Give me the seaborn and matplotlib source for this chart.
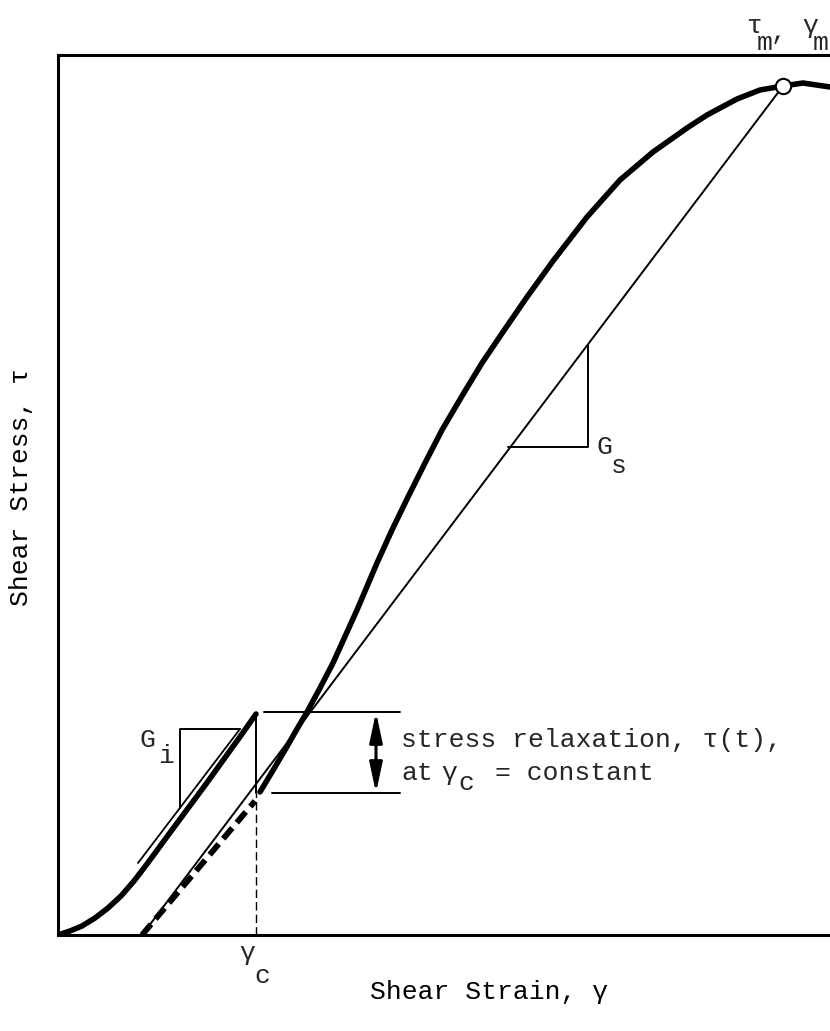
import numpy as np
import pandas as pd
import matplotlib
matplotlib.use("Agg")
import matplotlib.pyplot as plt
import seaborn as sns

# ---------------- data (arbitrary units) ----------------
load_strain = [0, 12, 24, 37, 50, 63, 76, 89, 100, 111, 128, 148, 166, 184, 198]
load_stress = [0, 4, 9, 17, 27, 39, 54, 71, 86, 101, 124, 151, 176, 201, 221]

reload_strain = [202, 214, 227, 239, 249, 262, 275, 299, 319, 334, 350, 367,
                 384, 404, 424, 447, 469, 495, 529, 562, 595, 629, 649, 679,
                 702, 725, 745, 772]
reload_stress = [143, 163, 185, 206, 223, 247, 272, 325, 372, 405, 438, 472,
                 505, 539, 572, 606, 638, 674, 718, 755, 783, 807, 820, 836,
                 845, 849, 852, 848]

gamma_c = 198              # constant strain during relaxation
tau_peak_c = 222           # stress at gamma_c before relaxation
tau_relaxed_c = 142        # stress after relaxation
gamma_m, tau_m = 725, 849  # peak point
gamma_0 = 84               # permanent-set strain (start of secant / unloading)

secant_strain = [gamma_0, gamma_m]
secant_stress = [0, tau_m]

unload_strain = [gamma_0, 197]
unload_stress = [0, 134]

tangent_strain = [80, 182]
tangent_stress = [72, 206]
gi_box_strain = [122, 122, 182]
gi_box_stress = [127, 206, 206]

gs_box_strain = [450, 530, 530]
gs_box_stress = [488, 488, 590]

# ---------------- style ----------------
sns.set_theme(style="white")
plt.rcParams["font.family"] = ["Liberation Mono", "DejaVu Sans Mono", "DejaVu Sans"]

fig = plt.figure(figsize=(8.30, 10.31), dpi=100)
W, H = 830, 1031
ax = fig.add_axes([58 / W, (H - 935) / H, 862 / W, 880 / H])
ax.set_xlim(0, 862)
ax.set_ylim(0, 880)
ax.set_facecolor("white")
for s in ["left", "bottom", "top"]:
    ax.spines[s].set_visible(True)
    ax.spines[s].set_color("black")
    ax.spines[s].set_linewidth(2.2)
ax.spines["right"].set_visible(False)
ax.set_xticks([])
ax.set_yticks([])

K = "black"
FS = 19

# main curves (thick)
sns.lineplot(x=load_strain, y=load_stress, ax=ax, color=K, linewidth=4,
             sort=False, estimator=None, solid_capstyle="round",
             solid_joinstyle="round")
sns.lineplot(x=reload_strain, y=reload_stress, ax=ax, color=K, linewidth=4,
             sort=False, estimator=None, solid_capstyle="round",
             solid_joinstyle="round")

# relaxation drop (thin solid) and dashed strain marker
ax.plot([gamma_c, gamma_c], [tau_relaxed_c, tau_peak_c], color=K, lw=1.4)
ax.plot([gamma_c, gamma_c], [0, tau_relaxed_c], color=K, lw=1.0,
        linestyle=(0, (6, 3)))

# thick dashed unloading line
ax.plot(unload_strain, unload_stress, color=K, lw=4.2,
        linestyle=(0, (2.4, 1.2)), dash_capstyle="butt")

# secant line (thin) with peak marker
sns.lineplot(x=secant_strain, y=secant_stress, ax=ax, color=K, linewidth=1.4,
             sort=False, estimator=None)
ax.plot([gamma_m], [tau_m], marker="o", markersize=11, markerfacecolor="white",
        markeredgecolor=K, markeredgewidth=1.5, clip_on=False, zorder=5)

# initial tangent + slope triangles
ax.plot(tangent_strain, tangent_stress, color=K, lw=1.3)
ax.plot(gi_box_strain, gi_box_stress, color=K, lw=1.4)
ax.plot(gs_box_strain, gs_box_stress, color=K, lw=1.4)

# relaxation bracket lines and arrow
ax.plot([206, 342], [tau_peak_c + 1, tau_peak_c + 1], color=K, lw=1.4)
ax.plot([214, 342], [tau_relaxed_c, tau_relaxed_c], color=K, lw=1.4)
ax.annotate("", xy=(318, tau_peak_c + 1), xytext=(318, tau_relaxed_c),
            arrowprops=dict(arrowstyle="<|-|>,head_length=1.5,head_width=0.32",
                            lw=2.2, color=K, shrinkA=0, shrinkB=0))

# ---------------- texts ----------------
ax.text(343, 188, "stress relaxation, τ(t),", fontsize=FS, ha="left", va="baseline")
ax.text(343, 155, "at", fontsize=FS, ha="left", va="baseline")
ax.text(383, 155, "γ", fontsize=FS, ha="left", va="baseline")
ax.text(400, 145, "c", fontsize=FS, ha="left", va="baseline")
ax.text(437, 155, "= constant", fontsize=FS, ha="left", va="baseline")

ax.text(89, 195, "G", fontsize=FS, ha="center", va="center")
ax.text(108, 179, "i", fontsize=FS, ha="center", va="center")
ax.text(546, 488, "G", fontsize=FS, ha="center", va="center")
ax.text(561, 469, "s", fontsize=FS, ha="center", va="center")

ax.text(189, -18, "γ", fontsize=FS, ha="center", va="center")
ax.text(204, -41, "c", fontsize=FS, ha="center", va="center")

ax.text(696, 909, "τ", fontsize=FS, ha="center", va="center")
ax.text(707, 892, "m", fontsize=FS, ha="center", va="center")
ax.text(721, 903, ",", fontsize=FS, ha="center", va="center")
ax.text(752, 909, "γ", fontsize=FS, ha="center", va="center")
ax.text(763, 892, "m", fontsize=FS, ha="center", va="center")

# axis titles
ax.text((489 - 58) / 862, (935 - 992) / 880, "Shear Strain, γ", fontsize=FS,
        color=K, ha="center", va="center", transform=ax.transAxes)
ax.text((21 - 58) / 862, (935 - 487) / 880, "Shear Stress, τ", fontsize=FS,
        color=K, ha="center", va="center", rotation=90, transform=ax.transAxes)

fig.savefig("out.png", dpi=100, facecolor="white")
